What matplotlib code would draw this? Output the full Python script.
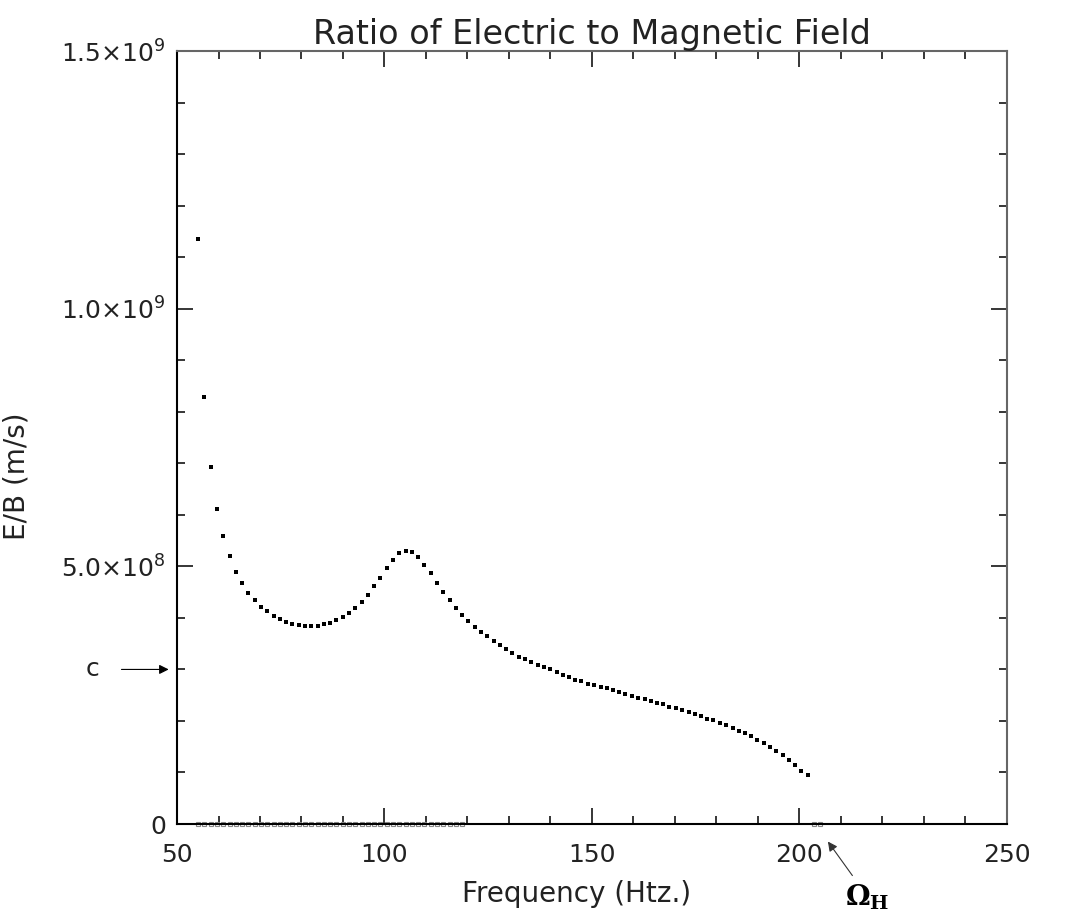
import matplotlib.pyplot as plt
from matplotlib.ticker import MultipleLocator

# frequencies (Hz) of the computed points
freq = [55.1, 56.6, 58.1, 59.6, 61.2, 62.7, 64.2, 65.7, 67.2, 68.7,
        70.3, 71.8, 73.3, 74.8, 76.3, 77.8, 79.3, 80.9, 82.4, 83.9,
        85.4, 86.9, 88.4, 89.9, 91.5, 93.0, 94.5, 96.0, 97.5, 99.0,
        100.6, 102.1, 103.6, 105.1, 106.6, 108.1, 109.6, 111.2, 112.7, 114.2,
        115.7, 117.2, 118.7, 120.2, 121.8, 123.3, 124.8, 126.3, 127.8, 129.3,
        130.8, 132.4, 133.9, 135.4, 136.9, 138.4, 139.9, 141.5, 143.0, 144.5,
        146.0, 147.5, 149.0, 150.5, 152.1, 153.6, 155.1, 156.6, 158.1, 159.6,
        161.2, 162.7, 164.2, 165.7, 167.2, 168.7, 170.2, 171.8, 173.3, 174.8,
        176.3, 177.8, 179.3, 180.8, 182.4, 183.9, 185.4, 186.9, 188.4, 189.9,
        191.5, 193.0, 194.5, 196.0, 197.5, 199.0, 200.5, 202.1]

# E/B in units of 1e9 m/s
eb = [1.135, 0.829, 0.693, 0.612, 0.558, 0.520, 0.490, 0.467, 0.449, 0.434,
      0.422, 0.413, 0.404, 0.398, 0.393, 0.389, 0.387, 0.385, 0.385, 0.385,
      0.388, 0.391, 0.396, 0.402, 0.410, 0.419, 0.431, 0.444, 0.461, 0.478,
      0.496, 0.513, 0.525, 0.530, 0.528, 0.518, 0.503, 0.487, 0.468, 0.451,
      0.435, 0.420, 0.406, 0.394, 0.383, 0.373, 0.364, 0.355, 0.347, 0.339,
      0.332, 0.325, 0.320, 0.314, 0.309, 0.304, 0.300, 0.295, 0.290, 0.285,
      0.280, 0.277, 0.272, 0.269, 0.266, 0.263, 0.260, 0.256, 0.252, 0.248,
      0.245, 0.242, 0.239, 0.235, 0.232, 0.228, 0.225, 0.221, 0.217, 0.213,
      0.209, 0.204, 0.201, 0.196, 0.192, 0.186, 0.181, 0.176, 0.171, 0.164,
      0.157, 0.149, 0.142, 0.134, 0.124, 0.114, 0.103, 0.095]

# points of the other root, sitting at zero
zero_freq = freq[:43] + [203.6, 205.1]
zero_eb = [0.0] * len(zero_freq)

ytick_vals = [0, 5e8, 1e9, 1.5e9]
ytick_labels = ['0', r'5.0$\times$10$^{8}$', r'1.0$\times$10$^{9}$', r'1.5$\times$10$^{9}$']
xtick_vals = [50, 100, 150, 200, 250]

fig = plt.figure(figsize=(10.86, 9.16), dpi=100)
ax = fig.add_axes([0.163, 0.1004, 0.764, 0.8439])

ax.plot(freq, [v * 1e9 for v in eb], 's', color='black', ms=3.2, mew=0)
ax.plot(zero_freq, zero_eb, 's', mfc='none', mec='#888888', ms=2.6, mew=0.8, clip_on=False)

ax.set_xlim(50, 250)
ax.set_ylim(0, 1.5e9)
ax.set_xticks(xtick_vals)
ax.set_xticklabels([str(v) for v in xtick_vals])
ax.set_yticks(ytick_vals)
ax.set_yticklabels(ytick_labels)
ax.xaxis.set_minor_locator(MultipleLocator(10))
ax.yaxis.set_minor_locator(MultipleLocator(1e8))
ax.tick_params(which='both', direction='in', top=True, right=True, width=1.1)
ax.tick_params(which='major', length=11.5, labelsize=18, colors='black', labelcolor='#222222')
ax.tick_params(which='minor', length=5.8)
ax.tick_params(axis='x', which='major', pad=14)
ax.tick_params(axis='y', which='major', pad=8)

for side in ['left', 'bottom']:
    ax.spines[side].set_linewidth(1.5)
    ax.spines[side].set_color('black')
for side in ['top', 'right']:
    ax.spines[side].set_linewidth(1.5)
    ax.spines[side].set_color('#666666')

ax.set_title('Ratio of Electric to Magnetic Field', fontsize=24, color='#222222', pad=5)
ax.set_xlabel('Frequency (Htz.)', fontsize=20, color='#222222')
ax.xaxis.set_label_coords(0.482, -0.072)
ax.set_ylabel('E/B (m/s)', fontsize=20, color='#222222')
ax.yaxis.set_label_coords(-0.176, 0.450)

# speed of light marker
ax.annotate('c', xy=(50, 3e8), xycoords='data', xytext=(-56, 0), textcoords='offset points',
            fontsize=18, color='#222222', ha='right', va='center', annotation_clip=False)
ax.annotate('', xy=(-6, 3e8), xycoords=('axes points', 'data'), xytext=(-40, 3e8),
            textcoords=('axes points', 'data'),
            arrowprops=dict(arrowstyle='-|>', color='black', lw=0.8, mutation_scale=14,
                            shrinkA=0, shrinkB=0),
            annotation_clip=False)

# hydrogen cyclotron frequency
ax.text(216.3, -1.42e8, r'$\mathbf{\Omega_H}$', fontsize=20, math_fontfamily='dejavuserif',
        ha='center', va='center')
ax.annotate('', xy=(206.9, -3.4e7), xycoords='data', xytext=(212.8, -1.0e8), textcoords='data',
            arrowprops=dict(arrowstyle='-|>', color='#333333', lw=0.8, mutation_scale=14,
                            shrinkA=0, shrinkB=0),
            annotation_clip=False)

plt.savefig('out.png', dpi=100)
